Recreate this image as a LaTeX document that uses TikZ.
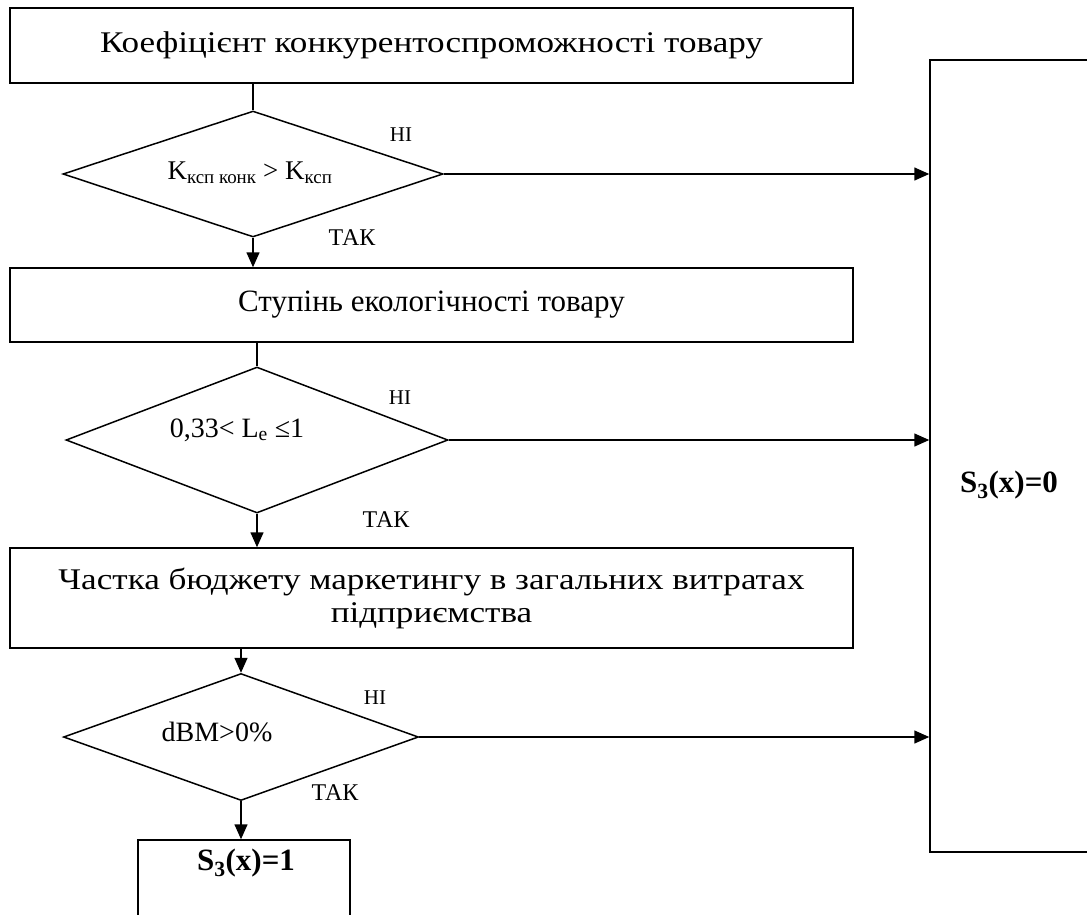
\documentclass[tikz,border=0pt]{standalone}
\usepackage{fontspec}
\setmainfont{Liberation Serif}
\newfontfamily\widefont[FakeStretch=1.17]{Liberation Serif}
\usetikzlibrary{shapes.geometric,arrows.meta}
\tikzset{
	blk/.style={draw, line width=1.5pt, rectangle, inner sep=0pt, align=center},
	rhomb/.style={draw, line width=1.5pt, diamond, inner sep=0pt},
	lbl/.style={font=\fontsize{21}{24}\selectfont, inner sep=0pt},
	cond/.style={inner sep=0pt},
	ln/.style={line width=1.5pt},
	arr/.style={line width=1.5pt, -{Triangle[length=15pt,width=13pt]}}
}

\begin{document}
\begin{tikzpicture}[x=1pt,y=-1pt]
				%%%%% START %%%%%
				\useasboundingbox (0,0) rectangle (1087,914);
				
				\node[blk, minimum width=843pt, minimum height=75pt, font=\widefont\fontsize{30}{34}\selectfont] (koef) at (431.5,45.5) {Коефіцієнт конкурентоспроможності товару};
				\node[rhomb, minimum width=380pt, minimum height=126pt] (d1) at (253,174) {};
				\node[cond, font=\fontsize{27}{32}\selectfont] (t1) at (250,173) {K\textsubscript{ксп конк} > K\textsubscript{ксп}};
				
				\node[blk, minimum width=843pt, minimum height=74pt, font=\fontsize{31}{36}\selectfont] (eco) at (431.5,305) {Ступінь екологічності товару};
				\node[rhomb, minimum width=382pt, minimum height=146pt] (d2) at (257,440) {};
				\node[cond, font=\fontsize{28}{32}\selectfont] (t2) at (237,430) {0,33< L\textsubscript{e} ≤1};
				
				\node[blk, minimum width=843pt, minimum height=100pt, font=\widefont\fontsize{30}{33}\selectfont] (budg) at (431.5,598) {Частка бюджету маркетингу в загальних витратах\\підприємства};
				\node[rhomb, minimum width=355pt, minimum height=127pt] (d3) at (241,737) {};
				\node[cond, font=\fontsize{28}{32}\selectfont] (t3) at (217,732) {dBM>0\%};
				
				\node[draw, line width=1.5pt, minimum width=212pt, minimum height=100pt] (s1box) at (244,890) {};
				\node[cond, font=\fontsize{31}{36}\selectfont\bfseries] (s1) at (246,863) {S\textsubscript{3}(x)=1};
				
				\node[draw, line width=1.5pt, minimum width=160pt, minimum height=792pt] (zero) at (1010,456) {};
				\node[cond, font=\fontsize{31}{36}\selectfont\bfseries] (s0) at (1009,485) {S\textsubscript{3}(x)=0};
				
				% links down
				\draw[ln] (koef.south -| d1.north) -- (d1.north);
				\draw[arr] (d1.south) -- (d1.south |- eco.north);
				\draw[ln] (eco.south -| d2.north) -- (d2.north);
				\draw[arr] (d2.south) -- (d2.south |- budg.north);
				\draw[arr] (budg.south -| d3.north) -- (d3.north);
				\draw[arr] (d3.south) -- (d3.south |- s1box.north);
				
				% links right
				\draw[arr] (d1.east) -- (d1.east -| zero.west);
				\draw[arr] (d2.east) -- (d2.east -| zero.west);
				\draw[arr] (d3.east) -- (d3.east -| zero.west);
				
				\node[lbl] (n1) at (401,135) {НІ};
				\node[lbl, font=\fontsize{24}{28}\selectfont] (y1) at (352,238) {ТАК};
				\node[lbl] (n2) at (400,398) {НІ};
				\node[lbl, font=\fontsize{24}{28}\selectfont] (y2) at (386,520) {ТАК};
				\node[lbl] (n3) at (375,698) {НІ};
				\node[lbl, font=\fontsize{24}{28}\selectfont] (y3) at (335,793) {ТАК};
				%%%%% END %%%%%
			\end{tikzpicture}
\end{document}
